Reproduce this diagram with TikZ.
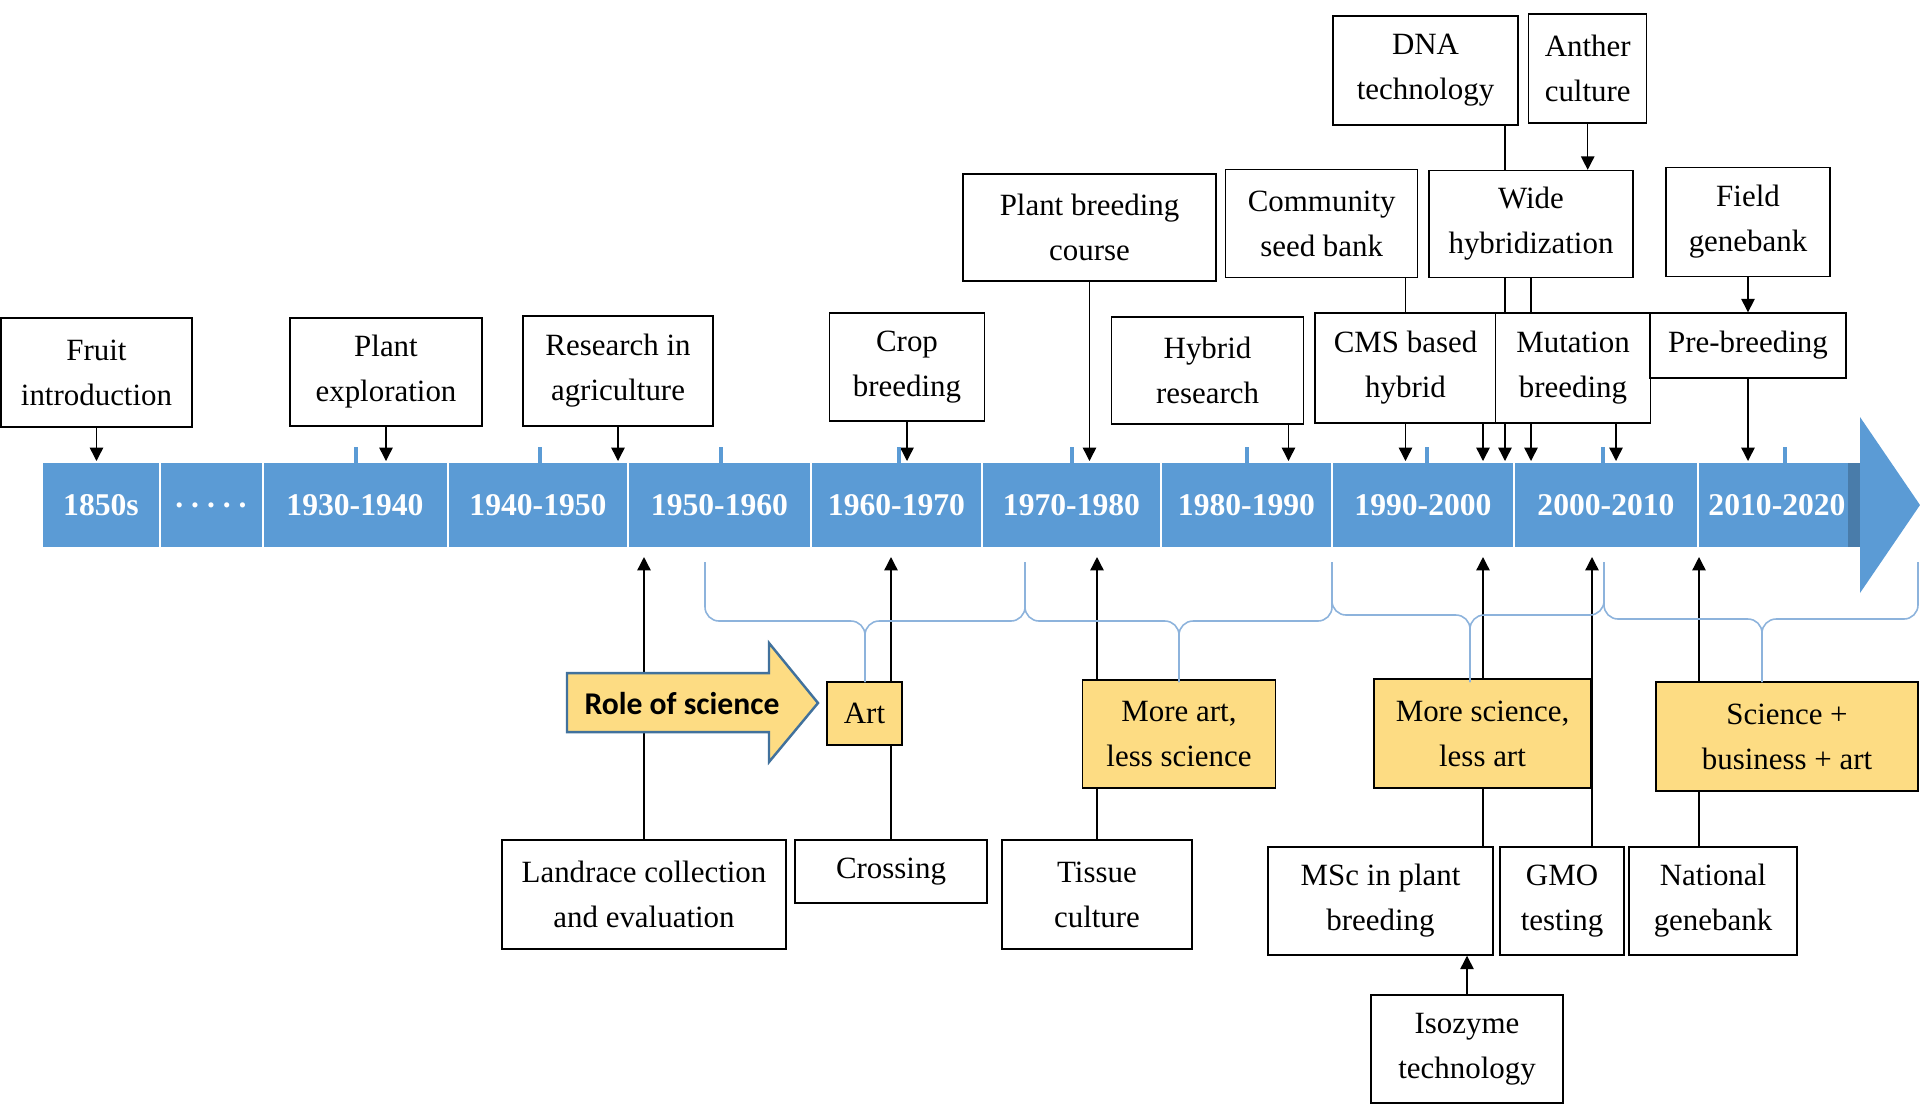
\documentclass[tikz,border=0pt]{standalone}
\usepackage{fontspec}
\setmainfont{Liberation Serif}
\newfontfamily\calibri{Carlito}
\usetikzlibrary{arrows.meta,backgrounds}
\definecolor{barblue}{HTML}{5B9BD5}
\definecolor{edgeblue}{HTML}{41719C}
\definecolor{gold}{HTML}{FDDC83}
\definecolor{brblue}{HTML}{8DB3DC}
\tikzset{
  box/.style={draw, line width=0.4pt, fill=white, align=center, inner sep=0pt, font=\fontsize{8.8}{12.8}\selectfont},
  goldbox/.style={box, fill=gold},
  yr/.style={text=white, font=\fontsize{9}{11}\selectfont\bfseries},
  brc/.style={brblue, line width=0.45pt, rounded corners=4pt},
}

\begin{document}
\begin{tikzpicture}[x=0.1mm, y=-0.1mm, >={Triangle[length=3.8pt, width=3.8pt]}, line width=0.4pt]
    \useasboundingbox (0, 0) rectangle (1920, 1109);
    \coordinate (up) at (0, 461);
    \coordinate (dn) at (0, 557);

    \fill [barblue] (43, 463) rectangle (1848, 547);
    \fill [barblue!80!black] (1848, 463) rectangle (1860, 547);
    \fill [barblue] (1860, 417) -- (1920, 505) -- (1860, 593) -- cycle;
    \foreach \x in {160, 263, 448, 628, 811, 982, 1161, 1332, 1514, 1698}
      \draw [white, line width=0.6pt] (\x, 463) -- (\x, 547);
    \foreach \x in {356, 540, 721, 899, 1072, 1247, 1427, 1603, 1785}
      \fill [barblue] (\x-2, 447) rectangle (\x+2, 463);

    \node [yr] (y1) at (101, 505) {1850s};
    \node [yr] (y2) at (211, 505) {.~.~.~.~.};
    \node [yr] (y3) at (355, 505) {1930-1940};
    \node [yr] (y4) at (538, 505) {1940-1950};
    \node [yr] (y5) at (719.5, 505) {1950-1960};
    \node [yr] (y6) at (896.5, 505) {1960-1970};
    \node [yr] (y7) at (1071.5, 505) {1970-1980};
    \node [yr] (y8) at (1246.5, 505) {1980-1990};
    \node [yr] (y9) at (1423, 505) {1990-2000};
    \node [yr] (y10) at (1606, 505) {2000-2010};
    \node [yr] (y11) at (1777, 505) {2010-2020};

    \node [box, minimum width=19.1mm, minimum height=10.9mm] (fruit) at (96.5, 372.5) {Fruit\\introduction};
    \node [box, minimum width=19.2mm, minimum height=10.8mm] (plant) at (386, 372) {Plant\\exploration};
    \node [box, minimum width=19.0mm, minimum height=11.0mm] (res) at (618, 371) {Research in\\agriculture};
    \node [box, minimum width=15.5mm, minimum height=10.8mm] (crop) at (907, 367) {Crop\\breeding};
    \node [box, minimum width=25.3mm, minimum height=10.7mm] (course) at (1089.5, 227.5) {Plant breeding\\course};
    \node [box, minimum width=19.2mm, minimum height=10.7mm] (hyb) at (1207.5, 370.5) {Hybrid\\research};
    \node [box, minimum width=19.2mm, minimum height=10.8mm] (comm) at (1321.7, 223.7) {Community\\seed bank};
    \node [box, minimum width=18.5mm, minimum height=10.9mm] (dna) at (1425.5, 70.5) {DNA\\technology};
    \node [box, minimum width=11.8mm, minimum height=10.9mm] (anth) at (1587.7, 68.5) {Anther\\culture};
    \node [box, minimum width=20.4mm, minimum height=10.7mm] (wide) at (1531, 224) {Wide\\hybridization};
    \node [box, minimum width=18.1mm, minimum height=11.0mm] (cms) at (1405.5, 368) {CMS based\\hybrid};
    \node [box, minimum width=15.5mm, minimum height=11.0mm] (mut) at (1573, 368) {Mutation\\breeding};
    \node [box, minimum width=19.6mm, minimum height=6.5mm] (pre) at (1748, 345.5) {Pre-breeding};
    \node [box, minimum width=16.4mm, minimum height=10.9mm] (field) at (1748, 222) {Field\\genebank};

    \node [box, minimum width=28.4mm, minimum height=10.9mm] (land) at (644, 894.5) {Landrace collection\\and evaluation};
    \node [box, minimum width=19.2mm, minimum height=6.3mm] (cross) at (891, 871.5) {Crossing};
    \node [box, minimum width=19.0mm, minimum height=10.9mm] (tis) at (1097, 894.5) {Tissue\\culture};
    \node [box, minimum width=22.5mm, minimum height=10.8mm] (msc) at (1380.5, 901) {MSc in plant\\breeding};
    \node [box, minimum width=12.4mm, minimum height=10.8mm] (gmo) at (1562, 901) {GMO\\testing};
    \node [box, minimum width=16.8mm, minimum height=10.8mm] (nat) at (1713, 901) {National\\genebank};
    \node [box, minimum width=19.2mm, minimum height=10.8mm] (iso) at (1467, 1049) {Isozyme\\technology};

    \filldraw [fill=gold, draw=edgeblue, line width=0.7pt] (567, 673) -- (769, 673) -- (769, 643) -- (818, 703) -- (769, 762) -- (769, 732) -- (567, 732) -- cycle;
    \node [font=\calibri\fontsize{9}{11}\selectfont\bfseries] (role) at (682, 703) {Role of science};

    \node [goldbox, minimum width=7.5mm, minimum height=6.3mm] (art) at (864.5, 713.5) {Art};
    \node [goldbox, minimum width=19.3mm, minimum height=10.8mm] (more) at (1179, 734) {More art,\\less science};
    \node [goldbox, minimum width=21.7mm, minimum height=10.9mm] (sci) at (1482.5, 733.5) {More science,\\less art};
    \node [goldbox, minimum width=26.2mm, minimum height=10.9mm] (bus) at (1787, 736.5) {Science +\\business + art};

    \foreach \l/\m/\r/\f in {705/865/1025/621, 1025/1179/1332/621, 1332/1470/1604/615, 1604/1762/1918/619} {
      \draw [brc] (\l, 562) -- (\l, \f) -- (\m, \f) -- (\m, 682);
      \draw [brc] (\m, 682) -- (\m, \f) -- (\r, \f) -- (\r, 562);
    }

    \begin{scope}[on background layer]
      \draw [->] (fruit) to (fruit |- up);
      \draw [->] (plant) to (plant |- up);
      \draw [->] (res) to (res |- up);
      \draw [->] (crop) to (crop |- up);
      \draw [->] (course) to (course |- up);
      \draw [->] ([xshift=8.1mm]hyb.south) to ([xshift=8.1mm]hyb.south |- up);
      \draw [->] (comm.south -| cms) to (cms |- up);
      \draw [->] ([xshift=7.75mm]cms.south) to ([xshift=7.75mm]cms.south |- up);
      \draw [->] ([xshift=7.95mm]dna.south) to ([xshift=7.95mm]dna.south |- up);
      \draw [->] (anth) to (anth |- wide.north);
      \draw [->] (wide) to (wide |- up);
      \draw [->] ([xshift=4.3mm]mut.south) to ([xshift=4.3mm]mut.south |- up);
      \draw [->] (field) to (field |- pre.north);
      \draw [->] (pre) to (pre |- up);
      \draw [->] (land) to (land |- dn);
      \draw [->] (cross) to (cross |- dn);
      \draw [->] (tis) to (tis |- dn);
      \draw [->] ([xshift=10.25mm]msc.north) to ([xshift=10.25mm]msc.north |- dn);
      \draw [->] ([xshift=3mm]gmo.north) to ([xshift=3mm]gmo.north |- dn);
      \draw [->] ([xshift=-1.4mm]nat.north) to ([xshift=-1.4mm]nat.north |- dn);
      \draw [->] (iso) to (iso |- msc.south);
    \end{scope}
\end{tikzpicture}
\end{document}
